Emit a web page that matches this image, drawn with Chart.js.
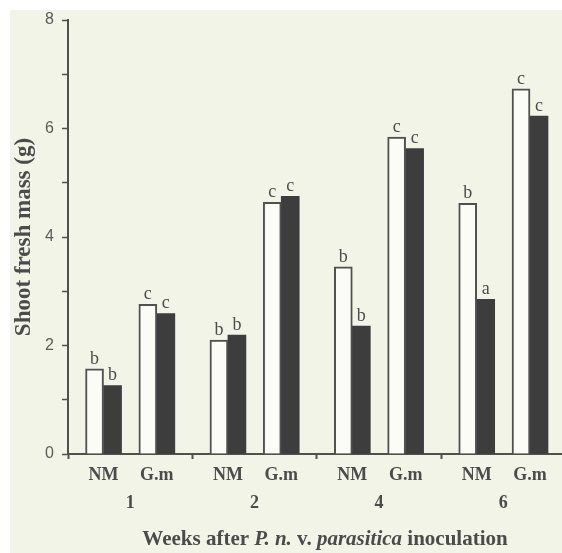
<!DOCTYPE html>
<html>
<head>
<meta charset="utf-8">
<script src="https://cdn.jsdelivr.net/npm/chart.js@4.4.1/dist/chart.umd.min.js"></script>
<style>
    html, body { margin: 0; padding: 0; background: #ffffff; overflow: hidden; }
    #paper { position: absolute; left: 10px; top: 10px; width: 552px; height: 543px; background: #f3f4e8; }
    #wrap { position: absolute; left: 0; top: 0; width: 562px; height: 553px; }
</style>
</head>
<body>
<div id="paper"></div>
<div id="wrap"><canvas id="massChart" width="562" height="553"></canvas></div>
<script>
// categories and values
const weeks = ['1', '2', '4', '6'];
const treatments = ['NM', 'G.m'];
const openBars = [1.57, 2.76, 2.10, 4.64, 3.45, 5.84, 4.62, 6.73];
const filledBars = [1.26, 2.59, 2.19, 4.75, 2.36, 5.63, 2.85, 6.23];
const openLetters = ['b', 'c', 'b', 'c', 'b', 'c', 'b', 'c'];
const filledLetters = ['b', 'c', 'b', 'c', 'b', 'c', 'a', 'c'];
const yTicks = [0, 2, 4, 6, 8];

// x positions on a linear axis: each week block is 7 units wide
const barPos = [2, 5, 9, 12, 16, 19, 23, 26];
const weekPos = [3.5, 10.5, 17.5, 24.5];
const dividers = [0, 7, 14, 21];

const ink = '#4b4b4b';
const serif = '"Liberation Serif", "Times New Roman", serif';

document.addEventListener('DOMContentLoaded', function() {
    const ctx = document.getElementById('massChart').getContext('2d');

    const letterPlugin = {
        id: 'letters',
        afterDatasetsDraw(chart) {
            const c = chart.ctx;
            c.save();
            c.font = '18px ' + serif;
            c.fillStyle = ink;
            c.textAlign = 'center';
            c.textBaseline = 'bottom';
            [openLetters, filledLetters].forEach((letters, di) => {
                chart.getDatasetMeta(di).data.forEach((bar, i) => {
                    c.fillText(letters[i], bar.x, bar.y - 1);
                });
            });
            c.restore();
        }
    };

    // x title with italic parts
    const titlePlugin = {
        id: 'xTitle',
        afterDraw(chart) {
            const c = chart.ctx;
            const parts = [
                ['Weeks after ', 'bold'],
                ['P. n.', 'italic bold'],
                [' v. ', 'bold'],
                ['parasitica', 'italic bold'],
                [' inoculation', 'bold']
            ];
            c.save();
            c.fillStyle = ink;
            c.textBaseline = 'middle';
            let total = 0;
            parts.forEach(p => {
                c.font = p[1] + ' 21px ' + serif;
                total += c.measureText(p[0]).width;
            });
            let x = 325 - total / 2;
            parts.forEach(p => {
                c.font = p[1] + ' 21px ' + serif;
                c.fillText(p[0], x, 540);
                x += c.measureText(p[0]).width;
            });
            c.restore();
        }
    };

    const points = vals => vals.map((v, i) => ({ x: barPos[i], y: v }));

    new Chart(ctx, {
        type: 'bar',
        data: {
            datasets: [{
                label: 'open',
                data: points(openBars),
                backgroundColor: '#fcfcf7',
                borderColor: '#505050',
                borderWidth: 2,
                barThickness: 18
            }, {
                label: 'filled',
                data: points(filledBars),
                backgroundColor: '#3d3d3d',
                borderColor: '#3d3d3d',
                borderWidth: 0,
                barThickness: 18
            }]
        },
        options: {
            responsive: false,
            animation: false,
            layout: { padding: { top: 20, left: 10, right: 0, bottom: 0 } },
            plugins: {
                legend: { display: false },
                tooltip: { enabled: false }
            },
            scales: {
                x: {
                    type: 'linear',
                    min: 0,
                    max: 27.8,
                    offset: false,
                    weight: 1,
                    afterBuildTicks: s => {
                        s.ticks = barPos.concat(dividers).sort((a, b) => a - b).map(v => ({ value: v }));
                    },
                    afterFit: s => { s.height = 33; },
                    ticks: {
                        autoSkip: false,
                        maxRotation: 0,
                        padding: 6,
                        color: ink,
                        font: { family: serif, size: 18, weight: 'bold' },
                        callback: v => {
                            const i = barPos.indexOf(v);
                            return i === -1 ? '' : treatments[i % 2];
                        }
                    },
                    grid: {
                        offset: false,
                        drawOnChartArea: false,
                        tickLength: 5,
                        tickWidth: 2,
                        tickColor: c => (c.tick && dividers.includes(c.tick.value)) ? '#505050' : 'rgba(0,0,0,0)'
                    },
                    border: { color: '#505050', width: 2 }
                },
                x2: {
                    type: 'linear',
                    position: 'bottom',
                    min: 0,
                    max: 27.8,
                    offset: false,
                    weight: 3,
                    afterBuildTicks: s => { s.ticks = weekPos.map(v => ({ value: v })); },
                    afterFit: s => { s.height = 66; },
                    ticks: {
                        autoSkip: false,
                        maxRotation: 0,
                        padding: 6,
                        color: ink,
                        font: { family: serif, size: 18, weight: 'bold' },
                        callback: v => weeks[weekPos.indexOf(v)]
                    },
                    grid: { display: false, drawTicks: false, offset: false },
                    border: { display: false }
                },
                y: {
                    min: 0,
                    max: 8,
                    afterBuildTicks: s => {
                        s.ticks = [0, 1, 2, 3, 4, 5, 6, 7, 8].map(v => ({ value: v }));
                    },
                    afterFit: s => { s.width = 58; },
                    ticks: {
                        padding: 8,
                        color: '#5a5a5a',
                        font: { family: '"Liberation Sans", Arial, sans-serif', size: 16 },
                        callback: v => yTicks.includes(v) ? String(v) : ''
                    },
                    grid: {
                        drawOnChartArea: false,
                        tickLength: 6,
                        tickWidth: 1.5,
                        tickColor: '#505050'
                    },
                    border: { color: '#505050', width: 2 },
                    title: {
                        display: true,
                        text: 'Shoot fresh mass (g)',
                        color: ink,
                        padding: { top: 0, bottom: 0 },
                        font: { family: serif, size: 23, weight: 'bold' }
                    }
                }
            }
        },
        plugins: [letterPlugin, titlePlugin]
    });
});
</script>
</body>
</html>
